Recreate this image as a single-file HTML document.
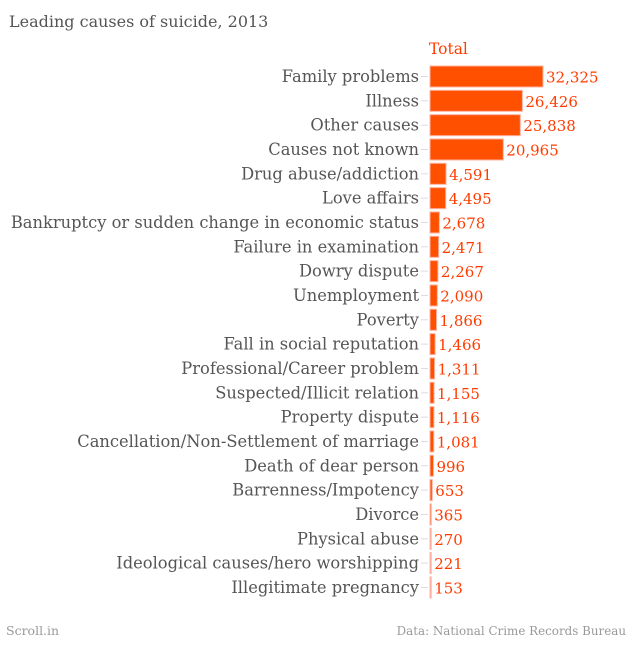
<!DOCTYPE html>
<html><head><meta charset="utf-8"><style>
body{margin:0;background:#fff;}
svg text{font-family:"DejaVu Serif",serif;}
</style></head><body>
<svg id="chart" width="633" height="640" xmlns="http://www.w3.org/2000/svg">
<text x="9" y="27" font-size="16" fill="#555">Leading causes of suicide, 2013</text>
<text x="429" y="54" font-size="15.5" fill="#ff3c00">Total</text>
<text x="6" y="635" font-size="12.5" fill="#999">Scroll.in</text>
<text x="626" y="635" font-size="11.9" fill="#999" text-anchor="end">Data: National Crime Records Bureau</text>
<g id="bars"></g>
</svg>
<script>
const categories=["Family problems","Illness","Other causes","Causes not known","Drug abuse/addiction","Love affairs","Bankruptcy or sudden change in economic status","Failure in examination","Dowry dispute","Unemployment","Poverty","Fall in social reputation","Professional/Career problem","Suspected/Illicit relation","Property dispute","Cancellation/Non-Settlement of marriage","Death of dear person","Barrenness/Impotency","Divorce","Physical abuse","Ideological causes/hero worshipping","Illegitimate pregnancy"];
const values=[32325,26426,25838,20965,4591,4495,2678,2471,2267,2090,1866,1466,1311,1155,1116,1081,996,653,365,270,221,153];
const labels=["32,325","26,426","25,838","20,965","4,591","4,495","2,678","2,471","2,267","2,090","1,866","1,466","1,311","1,155","1,116","1,081","996","653","365","270","221","153"];
const x0=430,xMax=113/32325;
const xs=v=>v*xMax;
const yc=i=>76.5+i*24.33;
const g=document.getElementById('bars');
const NS="http://www.w3.org/2000/svg";
categories.forEach((c,i)=>{
  const y=yc(i);
  const t=document.createElementNS(NS,'text');
  
  
  t.setAttribute('x',419);t.setAttribute('y',y+5.5);t.setAttribute('font-size','16.3');
  t.setAttribute('fill','#555');t.setAttribute('text-anchor','end');t.textContent=c;g.appendChild(t);
  const l=document.createElementNS(NS,'line');
  
  
  l.setAttribute('x1',421);l.setAttribute('x2',428);l.setAttribute('y1',y);l.setAttribute('y2',y);
  l.setAttribute('stroke','#ddd');g.appendChild(l);
  const w=Math.max(xs(values[i]),1.2);
  const r=document.createElementNS(NS,'rect');
  
  
  r.setAttribute('x',x0);r.setAttribute('y',y-10.5);r.setAttribute('width',w);r.setAttribute('height',21);
  r.setAttribute('fill','#ff5000');
  r.setAttribute('stroke','#ffb0a0');r.setAttribute('stroke-width','1');
  if(values[i]<300){r.setAttribute('fill','#ffb0a0');}
  g.appendChild(r);
  const v=document.createElementNS(NS,'text');
  
  
  v.setAttribute('x',x0+w+3);v.setAttribute('y',y+6);v.setAttribute('font-size','15');
  v.setAttribute('fill','#ff3c00');v.textContent=labels[i];g.appendChild(v);
});
</script>
</body></html>
